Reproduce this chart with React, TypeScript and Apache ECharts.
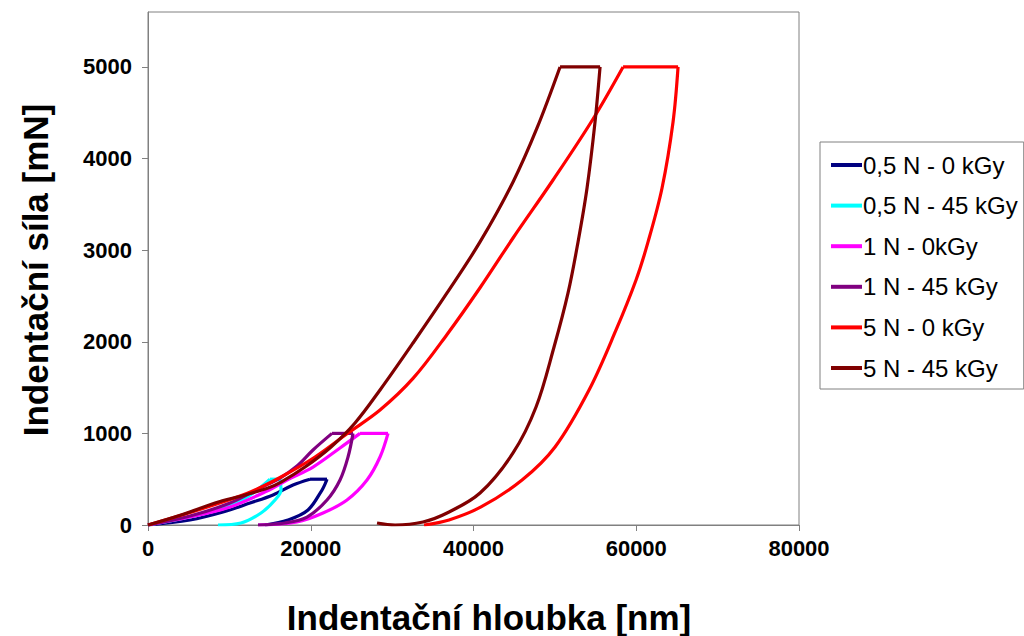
import React, { useEffect, useRef } from "react";
import * as echarts from "echarts";

// Tick labels
const xTicks = [0, 20000, 40000, 60000, 80000];
const yTicks = [0, 1000, 2000, 3000, 4000, 5000];

// Series names
const seriesNames = [
  "0,5 N - 0 kGy",
  "0,5 N - 45 kGy",
  "1 N - 0kGy",
  "1 N - 45 kGy",
  "5 N - 0 kGy",
  "5 N - 45 kGy",
];

// Loading branch (depth nm / force mN), up to the start of the hold
const loadDepthA = [0, 5162, 9218, 12536, 15363, 17821, 19910];
const loadForceA = [0, 55, 142, 240, 328, 437, 500];
const loadDepthB = [0, 3933, 7620, 11307, 13396, 14994];
const loadForceB = [0, 66, 142, 262, 382, 500];
const loadDepthC = [0, 5162, 10078, 14625, 17083, 20279, 23597, 26055];
const loadForceC = [0, 87, 197, 371, 491, 633, 841, 1000];
const loadDepthD = [0, 5162, 10078, 13765, 16223, 18312, 20279, 22614];
const loadForceD = [0, 98, 240, 404, 513, 644, 819, 1000];
const loadDepthE = [0, 6145, 12290, 16346, 20524, 24580, 28513, 32569, 36747, 40803, 44859, 49775, 54690, 58378];
const loadForceE = [0, 164, 349, 524, 742, 1004, 1255, 1600, 2080, 2590, 3133, 3766, 4432, 5000];
const loadDepthF = [0, 4056, 8235, 11921, 14748, 16346, 19295, 22491, 25440, 28513, 32569, 36747, 40803, 44859, 47808, 50635];
const loadForceF = [0, 109, 240, 328, 404, 469, 633, 852, 1114, 1474, 1987, 2533, 3090, 3745, 4334, 5000];

// Unloading branch, from the end of the hold down to the residual depth
const unloadDepthA = [22000, 21754, 21385, 19664, 17206, 14380];
const unloadForceA = [500, 447, 382, 164, 55, 0];
const unloadDepthB = [16223, 16346, 15608, 13888, 11430, 8603];
const unloadForceB = [500, 382, 273, 131, 22, 0];
const unloadDepthC = [29496, 28513, 26915, 24457, 21508, 18312, 13519];
const unloadForceC = [1000, 742, 491, 273, 131, 33, 0];
const unloadDepthD = [25195, 24580, 23597, 21999, 19541, 16837, 13519];
const unloadForceD = [1000, 742, 491, 273, 87, 22, 0];
const unloadDepthE = [65137, 64522, 63171, 61450, 59975, 57517, 54199, 50020, 45965, 40926, 36993, 33920];
const unloadForceE = [5000, 4400, 3679, 3090, 2675, 2129, 1474, 852, 491, 197, 55, 0];
const unloadDepthF = [55552, 54936, 53953, 52847, 51618, 49897, 47685, 44859, 40803, 36747, 33797, 30356, 28144];
const unloadForceF = [5000, 4400, 3679, 3090, 2533, 1943, 1288, 786, 349, 131, 33, 0, 22];

const loadDepths = [loadDepthA, loadDepthB, loadDepthC, loadDepthD, loadDepthE, loadDepthF];
const loadForces = [loadForceA, loadForceB, loadForceC, loadForceD, loadForceE, loadForceF];
const unloadDepths = [unloadDepthA, unloadDepthB, unloadDepthC, unloadDepthD, unloadDepthE, unloadDepthF];
const unloadForces = [unloadForceA, unloadForceB, unloadForceC, unloadForceD, unloadForceE, unloadForceF];
const colors = ["#000080", "#00FFFF", "#FF00FF", "#800080", "#FF0000", "#800000"];

const FONT = "'Liberation Sans', Arial, sans-serif";

const zip = (xs: number[], ys: number[]) => xs.map((x, i) => [x, ys[i]]);

export default function App() {
  const ref = useRef<HTMLDivElement>(null);
  useEffect(() => {
    document.body.style.margin = "0";
    if (!ref.current) return;
    const chart = echarts.init(ref.current, null, { renderer: "svg" });
    const series: any[] = [];
    seriesNames.forEach((name, i) => {
      const base = {
        name,
        type: "line",
        symbol: "none",
        lineStyle: { color: colors[i], width: 3.2 },
        itemStyle: { color: colors[i] },
        z: 2 + i,
      };
      const load = zip(loadDepths[i], loadForces[i]);
      const unload = zip(unloadDepths[i], unloadForces[i]);
      series.push({ ...base, data: load, smooth: 0.35 });
      series.push({ ...base, data: [load[load.length - 1], unload[0]], smooth: false });
      series.push({ ...base, data: unload, smooth: 0.35 });
    });
    chart.setOption({
      animation: false,
      backgroundColor: "#ffffff",
      grid: {
        left: 148,
        top: 12,
        width: 651,
        height: 513,
        show: true,
        borderColor: "#808080",
        borderWidth: 1,
        backgroundColor: "transparent",
      },
      xAxis: {
        type: "value",
        min: 0,
        max: 80000,
        interval: 20000,
        axisLine: { show: true, lineStyle: { color: "#808080", width: 1 } },
        axisTick: { show: true, length: 6, lineStyle: { color: "#808080" } },
        splitLine: { show: false },
        axisLabel: {
          margin: 12,
          fontSize: 22,
          fontWeight: "bold",
          color: "#000",
          fontFamily: FONT,
          customValues: xTicks,
          formatter: (v: number) => String(v),
        },
      },
      yAxis: {
        type: "value",
        min: 0,
        max: 5600,
        interval: 1000,
        axisLine: { show: true, lineStyle: { color: "#808080", width: 1 } },
        axisTick: { show: true, length: 6, lineStyle: { color: "#808080" }, customValues: yTicks },
        splitLine: { show: false },
        axisLabel: {
          margin: 16,
          fontSize: 22,
          fontWeight: "bold",
          color: "#000",
          fontFamily: FONT,
          customValues: yTicks,
          formatter: (v: number) => String(v),
        },
      },
      legend: {
        orient: "vertical",
        left: 820,
        top: 142,
        borderColor: "#808080",
        borderWidth: 1,
        borderRadius: 0,
        padding: [11, 6, 9, 11],
        itemGap: 16.6,
        itemWidth: 31,
        itemHeight: 4,
        icon: "rect",
        textStyle: { fontSize: 24, lineHeight: 22, fontFamily: FONT, color: "#000", padding: [0, 0, 0, -4] },
        data: seriesNames,
      },
      graphic: [
        {
          type: "text",
          x: 489,
          y: 617,
          style: {
            text: "Indentační hloubka [nm]",
            font: `bold 35px ${FONT}`,
            fill: "#000",
            align: "center",
            verticalAlign: "middle",
          },
        },
        {
          type: "text",
          x: 35,
          y: 270,
          rotation: Math.PI / 2,
          style: {
            text: "Indentační síla [mN]",
            font: `bold 35px ${FONT}`,
            fill: "#000",
            align: "center",
            verticalAlign: "middle",
          },
        },
      ],
      series,
    });
    return () => chart.dispose();
  }, []);
  return <div ref={ref} style={{ width: 1024, height: 636 }} />;
}
